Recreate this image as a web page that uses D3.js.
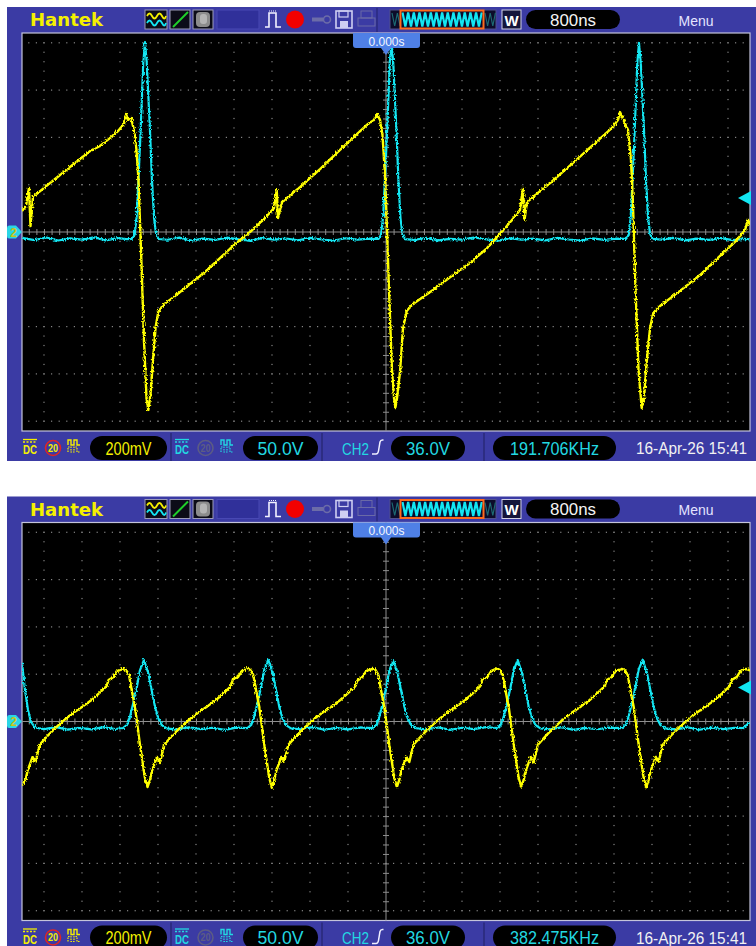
<!DOCTYPE html>
<html>
<head>
<meta charset="utf-8">
<script src="https://cdn.jsdelivr.net/npm/d3@7"></script>
<style>
    body { margin: 0; background: #fff; }
    svg { display: block; font-family: "Liberation Sans", Arial, sans-serif; }
</style>
</head>
<body>
<svg id="chart" width="756" height="946"></svg>
<script>
// Two Hantek screen captures, 800ns/div, CH1 200mV/div, CH2 50.0V/div

var gridTimes = [-7.2, -6.4, -5.6, -4.8, -4.0, -3.2, -2.4, -1.6, -0.8, 0, 0.8, 1.6, 2.4, 3.2, 4.0, 4.8, 5.6, 6.4, 7.2]; // µs
var gridVolts = [-0.8, -0.6, -0.4, -0.2, 0, 0.2, 0.4, 0.6, 0.8]; // CH1 volts

var timeLabel = "800ns";
var trigPosLabel = "0.000s";
var ch1Label = "200mV";
var ch2Label = "50.0V";
var trigLabel = "36.0V";
var trigLevel = 36.0; // CH2 volts
var stampLabel = "16-Apr-26 15:41";
var freqLabels = ["191.706KHz", "382.475KHz"];

// top screen, CH1 [µs, V]
var ch1Top = [
    [-7.663, 0.089], [-7.579, 0.110], [-7.516, 0.186], [-7.484, 0.025], [-7.432, 0.148],
    [-7.179, 0.190], [-6.863, 0.241], [-6.547, 0.292], [-6.232, 0.342], [-6.021, 0.364],
    [-5.811, 0.397], [-5.642, 0.427], [-5.516, 0.457], [-5.474, 0.499], [-5.432, 0.474],
    [-5.368, 0.482], [-5.305, 0.431], [-5.253, 0.347], [-5.211, 0.220], [-5.158, -0.076],
    [-5.095, -0.457], [-5.042, -0.702], [-5.004, -0.753], [-4.958, -0.689], [-4.905, -0.541],
    [-4.853, -0.406], [-4.794, -0.338], [-4.695, -0.309], [-4.442, -0.271], [-4.126, -0.220],
    [-3.811, -0.169], [-3.495, -0.110], [-3.179, -0.051], [-2.863, 0.000], [-2.547, 0.059],
    [-2.358, 0.101], [-2.301, 0.178], [-2.274, 0.059], [-2.189, 0.127], [-1.811, 0.190],
    [-1.389, 0.266], [-0.968, 0.347], [-0.653, 0.406], [-0.379, 0.457], [-0.253, 0.474],
    [-0.189, 0.499], [-0.126, 0.474], [-0.074, 0.410], [-0.021, 0.241], [0.021, 0.008],
    [0.063, -0.245], [0.126, -0.584], [0.179, -0.723], [0.200, -0.740], [0.232, -0.702],
    [0.295, -0.592], [0.358, -0.406], [0.436, -0.334], [0.568, -0.304], [0.989, -0.245],
    [1.411, -0.182], [1.768, -0.131], [2.126, -0.068], [2.400, -0.008], [2.653, 0.051],
    [2.821, 0.093], [2.884, 0.186], [2.916, 0.051], [2.968, 0.127], [3.453, 0.207],
    [3.937, 0.292], [4.400, 0.376], [4.758, 0.440], [4.884, 0.474], [4.926, 0.507],
    [4.989, 0.478], [5.095, 0.431], [5.158, 0.304], [5.200, 0.114], [5.253, -0.245],
    [5.316, -0.584], [5.383, -0.744], [5.432, -0.702], [5.488, -0.550], [5.558, -0.406],
    [5.628, -0.342], [5.768, -0.313], [6.189, -0.249], [6.611, -0.182], [7.032, -0.101],
    [7.347, -0.042], [7.558, 0.008], [7.621, 0.051], [7.663, 0.030]
];

// top screen, CH2 [µs, V]
var ch2Top = [
    [-7.663, -6.3], [-7.4, -8.5], [-7.15, -5.8], [-6.9, -9.0], [-6.65, -6.8], [-6.4, -8.0],
    [-6.15, -5.6], [-5.9, -8.8], [-5.65, -6.5], [-5.45, -7.6],
    [-5.348, -7.4], [-5.295, -3.2], [-5.249, 15.9], [-5.211, 55.0], [-5.165, 107.8], [-5.110, 178.6],
    [-5.074, 200.8], [-5.036, 178.6], [-4.969, 107.8], [-4.927, 55.0], [-4.885, 15.9], [-4.842, -2.1],
    [-4.790, -7.4],
    [-4.6, -8.2], [-4.35, -6.0], [-4.1, -9.1], [-3.85, -7.0], [-3.6, -8.4], [-3.35, -5.9], [-3.1, -7.8],
    [-2.85, -9.3], [-2.6, -6.4], [-2.35, -8.0], [-2.1, -6.9], [-1.85, -8.7], [-1.6, -6.2], [-1.35, -7.9],
    [-1.1, -9.0], [-0.85, -6.6], [-0.6, -8.1], [-0.35, -7.0],
    [-0.158, -7.4], [-0.105, -3.0], [-0.059, 17.0], [-0.021, 57.0], [0.025, 109.0], [0.080, 179.5],
    [0.116, 201.5], [0.154, 177.0], [0.221, 106.0], [0.263, 53.0], [0.305, 14.5], [0.348, -2.5],
    [0.400, -7.6],
    [0.6, -8.4], [0.85, -6.1], [1.1, -8.9], [1.35, -7.2], [1.6, -8.0], [1.85, -5.8], [2.1, -7.7],
    [2.35, -9.2], [2.6, -6.5], [2.85, -8.1], [3.1, -7.0], [3.35, -8.8], [3.6, -6.3], [3.85, -7.9],
    [4.1, -9.0], [4.35, -6.8], [4.6, -8.3], [4.85, -7.1],
    [5.052, -7.3], [5.105, -3.4], [5.151, 15.0], [5.189, 54.0], [5.235, 106.5], [5.290, 178.0],
    [5.326, 200.0], [5.364, 178.0], [5.431, 108.5], [5.473, 56.0], [5.515, 16.5], [5.558, -1.8],
    [5.610, -7.2],
    [5.8, -8.0], [6.05, -6.2], [6.3, -8.9], [6.55, -7.0], [6.8, -8.4], [7.05, -6.5], [7.3, -8.6],
    [7.55, -7.2], [7.663, -7.8]
];

// bottom screen, CH1 [µs, V]
var ch1Bottom = [
    [-7.663, -0.270], [-7.589, -0.247], [-7.547, -0.209], [-7.441, -0.150], [-7.378, -0.171],
    [-7.294, -0.099], [-7.126, -0.061], [-6.957, -0.027], [-6.747, 0.011], [-6.557, 0.040],
    [-6.368, 0.066], [-6.199, 0.091], [-6.031, 0.121], [-5.883, 0.150], [-5.841, 0.175],
    [-5.736, 0.188], [-5.652, 0.214],
    [-5.537, 0.222], [-5.474, 0.218], [-5.411, 0.197], [-5.354, 0.133], [-5.284, 0.061],
    [-5.179, -0.099], [-5.074, -0.239], [-5.021, -0.277],
    [-4.969, -0.247], [-4.927, -0.209], [-4.821, -0.150], [-4.758, -0.175], [-4.674, -0.099],
    [-4.506, -0.061], [-4.337, -0.027], [-4.127, 0.011], [-3.937, 0.040], [-3.748, 0.066],
    [-3.579, 0.091], [-3.411, 0.121], [-3.263, 0.150], [-3.221, 0.180], [-3.116, 0.188],
    [-3.032, 0.214],
    [-2.920, 0.226], [-2.857, 0.218], [-2.794, 0.197], [-2.737, 0.133], [-2.667, 0.061],
    [-2.562, -0.099], [-2.457, -0.239], [-2.404, -0.280],
    [-2.352, -0.247], [-2.310, -0.209], [-2.204, -0.150], [-2.141, -0.168], [-2.057, -0.099],
    [-1.889, -0.061], [-1.720, -0.027], [-1.510, 0.011], [-1.320, 0.040], [-1.131, 0.066],
    [-0.962, 0.091], [-0.794, 0.121], [-0.646, 0.150], [-0.604, 0.172], [-0.499, 0.188],
    [-0.415, 0.214],
    [-0.288, 0.222], [-0.225, 0.220], [-0.162, 0.197], [-0.105, 0.133], [-0.035, 0.061],
    [0.070, -0.099], [0.175, -0.239], [0.228, -0.277],
    [0.280, -0.247], [0.322, -0.209], [0.428, -0.150], [0.491, -0.171], [0.575, -0.099],
    [0.743, -0.061], [0.912, -0.027], [1.122, 0.011], [1.312, 0.040], [1.501, 0.066],
    [1.670, 0.091], [1.838, 0.121], [1.986, 0.150], [2.028, 0.178], [2.133, 0.188],
    [2.217, 0.214],
    [2.331, 0.224], [2.394, 0.218], [2.457, 0.197], [2.514, 0.133], [2.584, 0.061],
    [2.689, -0.099], [2.794, -0.239], [2.847, -0.275],
    [2.899, -0.247], [2.941, -0.209], [3.047, -0.150], [3.110, -0.173], [3.194, -0.099],
    [3.362, -0.061], [3.531, -0.027], [3.741, 0.011], [3.931, 0.040], [4.120, 0.066],
    [4.289, 0.091], [4.457, 0.121], [4.605, 0.150], [4.647, 0.175], [4.752, 0.188],
    [4.836, 0.214],
    [4.962, 0.222], [5.025, 0.218], [5.088, 0.197], [5.145, 0.133], [5.215, 0.061],
    [5.320, -0.099], [5.425, -0.239], [5.478, -0.278],
    [5.530, -0.247], [5.572, -0.209], [5.678, -0.150], [5.741, -0.170], [5.825, -0.099],
    [5.993, -0.061], [6.162, -0.027], [6.372, 0.011], [6.562, 0.040], [6.751, 0.066],
    [6.920, 0.091], [7.088, 0.121], [7.236, 0.150], [7.278, 0.176], [7.383, 0.188],
    [7.467, 0.214], [7.578, 0.222], [7.641, 0.218], [7.663, 0.214]
];

// bottom screen, CH2 [µs, V]
var ch2Bottom = [
    [-7.663, 62.0], [-7.600, 33.3], [-7.537, 12.2], [-7.474, -0.5], [-7.389, -6.3],
    [-7.2, -8.1], [-6.95, -5.9], [-6.7, -8.6], [-6.45, -6.7], [-6.2, -8.3], [-5.95, -6.0], [-5.7, -7.9],
    [-5.537, -6.9], [-5.453, -3.7], [-5.390, 5.1], [-5.320, 19.6], [-5.249, 35.4], [-5.179, 54.4],
    [-5.095, 65.0], [-5.004, 51.0], [-4.933, 33.0], [-4.863, 15.6], [-4.794, 3.4], [-4.722, -3.7],
    [-4.617, -7.2],
    [-4.4, -8.6], [-4.15, -6.1], [-3.9, -8.0], [-3.65, -6.6], [-3.4, -8.9], [-3.15, -6.4],
    [-2.920, -6.9], [-2.836, -3.5], [-2.773, 5.4], [-2.703, 20.0], [-2.632, 36.0], [-2.562, 55.0],
    [-2.478, 65.5], [-2.387, 51.5], [-2.316, 33.5], [-2.246, 15.2], [-2.177, 3.0], [-2.105, -3.9],
    [-2.000, -7.2],
    [-1.8, -8.2], [-1.55, -6.0], [-1.3, -8.7], [-1.05, -6.8], [-0.8, -8.4], [-0.55, -6.3],
    [-0.288, -6.9], [-0.204, -3.7], [-0.141, 5.0], [-0.071, 19.0], [0.000, 35.0], [0.070, 54.0],
    [0.154, 64.8], [0.245, 50.5], [0.316, 33.0], [0.386, 15.8], [0.455, 3.6], [0.527, -3.5],
    [0.632, -7.0],
    [0.85, -8.5], [1.1, -6.2], [1.35, -8.8], [1.6, -6.6], [1.85, -8.1], [2.1, -6.0],
    [2.331, -6.9], [2.415, -3.7], [2.478, 5.1], [2.548, 19.6], [2.619, 35.4], [2.689, 54.4],
    [2.773, 65.0], [2.864, 51.0], [2.935, 33.0], [3.005, 15.6], [3.074, 3.4], [3.146, -3.7],
    [3.251, -7.2],
    [3.45, -8.3], [3.7, -6.1], [3.95, -8.9], [4.2, -6.7], [4.45, -8.2], [4.7, -6.4],
    [4.962, -6.9], [5.046, -3.6], [5.109, 5.3], [5.179, 20.2], [5.250, 36.0], [5.320, 55.0],
    [5.404, 65.4], [5.495, 51.2], [5.566, 33.2], [5.636, 15.4], [5.705, 3.2], [5.777, -3.8],
    [5.882, -7.2],
    [6.1, -8.4], [6.35, -6.2], [6.6, -8.7], [6.85, -6.5], [7.1, -8.1], [7.35, -6.6],
    [7.516, -7.0], [7.663, -0.5]
];

var PURPLE = "#3b3ba4";
var YELLOW = "#f4f000";
var CYAN = "#22d8e2";
var TRACE_CYAN = "#12e6f2";

// scales are shared by both screens (each screen group is translated)
var x = d3.scaleLinear().domain([-7.663, 7.663]).range([22, 750]);
var yCh1 = d3.scaleLinear().domain([-0.8, 0.8]).range([414.2, 35.8]);
var yCh2 = d3.scaleLinear().domain([-200, 200]).range([414.2, 35.8]);

window.addEventListener("load", function () {
    var svg = d3.select("#chart");

    // sampling fuzz on the traces
    var fuzz = svg.append("defs").append("filter")
        .attr("id", "fuzz")
        .attr("x", "-3%").attr("y", "-8%")
        .attr("width", "106%").attr("height", "116%");
    fuzz.append("feTurbulence")
        .attr("type", "fractalNoise")
        .attr("baseFrequency", "0.9 0.5")
        .attr("numOctaves", 1)
        .attr("seed", 7)
        .attr("result", "noise");
    fuzz.append("feDisplacementMap")
        .attr("in", "SourceGraphic")
        .attr("in2", "noise")
        .attr("scale", 4)
        .attr("xChannelSelector", "R")
        .attr("yChannelSelector", "G");

    drawScreen(svg, 0, 7, freqLabels[0], ch1Top, ch2Top);
    drawScreen(svg, 1, 496.5, freqLabels[1], ch1Bottom, ch2Bottom);
});

function drawScreen(svg, idx, top, freq, ch1, ch2) {
    var g = svg.append("g").attr("transform", "translate(0," + top + ")");

    g.append("rect")
        .attr("x", 7).attr("y", 0)
        .attr("width", 760).attr("height", 454)
        .attr("fill", PURPLE);

    drawHeader(g);
    drawGrid(g);
    drawTraces(g, idx, ch1, ch2);
    drawMarkers(g);
    drawStatus(g, freq);
}

function addText(g, str, px, py, opts) {
    var t = g.append("text")
        .attr("x", px).attr("y", py)
        .attr("fill", opts.fill || "#fff")
        .attr("font-size", opts.size || 16)
        .attr("text-anchor", opts.anchor || "middle")
        .text(str);
    if (opts.weight) t.attr("font-weight", opts.weight);
    if (opts.family) t.attr("font-family", opts.family);
    if (opts.len) t.attr("textLength", opts.len).attr("lengthAdjust", "spacingAndGlyphs");
    return t;
}

function drawHeader(g) {
    addText(g, "Hantek", 30, 19, { fill: YELLOW, size: 17, anchor: "start", weight: "bold", family: "DejaVu Sans", len: 73 });

    // mode icons
    [[145, 22], [170, 20], [193, 20]].forEach(function (d) {
        g.append("rect").attr("x", d[0]).attr("y", 3).attr("width", d[1]).attr("height", 19)
            .attr("fill", "#0c0c18").attr("stroke", "#9c9cb8").attr("stroke-width", 1);
    });
    g.append("path").attr("d", "M147,9 q2.5,-5 5,0 t5,0 t5,0 t4,0")
        .attr("fill", "none").attr("stroke", YELLOW).attr("stroke-width", 1.8);
    g.append("path").attr("d", "M147,16 q2.5,-5 5,0 t5,0 t5,0 t4,0")
        .attr("fill", "none").attr("stroke", TRACE_CYAN).attr("stroke-width", 1.8);
    g.append("line").attr("x1", 173).attr("y1", 20).attr("x2", 188).attr("y2", 5)
        .attr("stroke", "#1fcf2a").attr("stroke-width", 2);
    g.append("rect").attr("x", 196).attr("y", 5).attr("width", 14).attr("height", 15).attr("rx", 4)
        .attr("fill", "#8c8c8c");
    g.append("rect").attr("x", 200).attr("y", 7).attr("width", 7).attr("height", 10).attr("rx", 3)
        .attr("fill", "#b4b4b4");
    g.append("rect").attr("x", 217).attr("y", 3).attr("width", 42).attr("height", 19)
        .attr("fill", "#30309a").attr("stroke", "#4848b4");

    // pulse, run, key, disk, printer
    g.append("path").attr("d", "M265,20 h4 v-14 h7 v14 h5")
        .attr("fill", "none").attr("stroke", "#f2f2ff").attr("stroke-width", 1.6);
    g.append("path").attr("d", "M269,4 h7").attr("stroke", "#f2f2ff").attr("stroke-dasharray", "1,1");
    g.append("circle").attr("cx", 295).attr("cy", 12.5).attr("r", 9).attr("fill", "#f20000");
    g.append("path").attr("d", "M312,12.5 h11").attr("stroke", "#6c6ca8").attr("stroke-width", 4);
    g.append("circle").attr("cx", 327).attr("cy", 12.5).attr("r", 3.5)
        .attr("fill", "none").attr("stroke", "#6c6ca8").attr("stroke-width", 1.6);
    g.append("rect").attr("x", 336).attr("y", 4).attr("width", 16).attr("height", 17)
        .attr("fill", "none").attr("stroke", "#cfcff2").attr("stroke-width", 1.6);
    g.append("rect").attr("x", 339).attr("y", 4).attr("width", 9).attr("height", 6)
        .attr("fill", "none").attr("stroke", "#cfcff2").attr("stroke-width", 1.2);
    g.append("rect").attr("x", 340).attr("y", 14).attr("width", 8).attr("height", 7)
        .attr("fill", "#cfcff2");
    g.append("rect").attr("x", 361).attr("y", 4).attr("width", 11).attr("height", 7)
        .attr("fill", "none").attr("stroke", "#6a6aa6");
    g.append("rect").attr("x", 358).attr("y", 11).attr("width", 17).attr("height", 8)
        .attr("fill", "none").attr("stroke", "#6a6aa6");
    g.append("line").attr("x1", 377).attr("y1", 1).attr("x2", 377).attr("y2", 25)
        .attr("stroke", "#23236c");

    // memory depth strip
    g.append("rect").attr("x", 390).attr("y", 3).attr("width", 106).attr("height", 19)
        .attr("fill", "#0c0c2a").attr("stroke", "#50508a");
    var zig = d3.line();
    g.append("path").attr("d", zig(d3.range(4).map(function (i) { return [392 + i * 2.7, i % 2 ? 19 : 6]; })))
        .attr("fill", "none").attr("stroke", "#1d6a72").attr("stroke-width", 1.2);
    g.append("path").attr("d", zig(d3.range(5).map(function (i) { return [485 + i * 2.6, i % 2 ? 19 : 6]; })))
        .attr("fill", "none").attr("stroke", "#1d6a72").attr("stroke-width", 1.2);
    g.append("path").attr("d", zig(d3.range(29).map(function (i) { return [402.5 + i * 2.83, i % 2 ? 19.5 : 5.5]; })))
        .attr("fill", "none").attr("stroke", TRACE_CYAN).attr("stroke-width", 2.2);
    g.append("rect").attr("x", 400.5).attr("y", 3.5).attr("width", 83).attr("height", 18)
        .attr("fill", "none").attr("stroke", "#ff6a1c").attr("stroke-width", 2);

    g.append("rect").attr("x", 502).attr("y", 3).attr("width", 19).attr("height", 19)
        .attr("fill", "#14143a").attr("stroke", "#d2d2e4");
    addText(g, "W", 511.5, 18.5, { size: 15, weight: "bold" });

    g.append("rect").attr("x", 526).attr("y", 3).attr("width", 94).attr("height", 19).attr("rx", 9.5)
        .attr("fill", "#000");
    addText(g, timeLabel, 573, 18.5, { size: 17, len: 46, fill: "#f4f4f4" });
    addText(g, "Menu", 696, 18.5, { size: 15, len: 35, fill: "#e4e4ff" });
}

function drawGrid(g) {
    g.append("rect")
        .attr("x", 22).attr("y", 26)
        .attr("width", 728).attr("height", 398)
        .attr("fill", "#000")
        .attr("stroke", "#c4c4da").attr("stroke-width", 1.2);

    var rowDots = d3.range(-47, 48).map(function (i) { return i * 0.16; });
    var colDots = d3.range(-20, 21).map(function (i) { return i * 0.04; });

    gridVolts.filter(function (v) { return v !== 0; }).forEach(function (v) {
        g.append("g").selectAll("rect")
            .data(rowDots)
            .enter().append("rect")
            .attr("x", function (t) { return x(t) - 0.6; })
            .attr("y", yCh1(v) - 0.6)
            .attr("width", 1.2).attr("height", 1.2)
            .attr("fill", "#858585");
    });

    gridTimes.filter(function (t) { return t !== 0; }).forEach(function (t) {
        g.append("g").selectAll("rect")
            .data(colDots)
            .enter().append("rect")
            .attr("x", x(t) - 0.6)
            .attr("y", function (v) { return yCh1(v) - 0.6; })
            .attr("width", 1.2).attr("height", 1.2)
            .attr("fill", "#858585");
    });

    // centre cross with fine ticks
    g.append("line").attr("x1", 22).attr("x2", 750).attr("y1", yCh1(0)).attr("y2", yCh1(0))
        .attr("stroke", "#8e8e8e");
    g.append("line").attr("x1", x(0)).attr("x2", x(0)).attr("y1", 26).attr("y2", 424)
        .attr("stroke", "#8e8e8e");

    var tickT = d3.range(-47, 48).map(function (i) { return i * 0.16; });
    var tickV = d3.range(-20, 21).map(function (i) { return i * 0.04; });

    [d3.axisBottom(x), d3.axisTop(x)].forEach(function (ax) {
        g.append("g")
            .attr("class", "cross")
            .attr("transform", "translate(0," + yCh1(0) + ")")
            .call(ax.tickValues(tickT).tickSize(3).tickSizeOuter(0).tickFormat(""));
    });
    [d3.axisLeft(yCh1), d3.axisRight(yCh1)].forEach(function (ax) {
        g.append("g")
            .attr("class", "cross")
            .attr("transform", "translate(" + x(0) + ",0)")
            .call(ax.tickValues(tickV).tickSize(3).tickSizeOuter(0).tickFormat(""));
    });
    g.selectAll(".cross .domain").remove();
    g.selectAll(".cross line").attr("stroke", "#8e8e8e");
}

function drawTraces(g, idx, ch1, ch2) {
    var clipId = "plotClip" + idx;
    g.append("clipPath").attr("id", clipId)
        .append("rect").attr("x", 22).attr("y", 26).attr("width", 728).attr("height", 398);

    var traces = g.append("g").attr("clip-path", "url(#" + clipId + ")");

    var line2 = d3.line()
        .x(function (d) { return x(d[0]); })
        .y(function (d) { return yCh2(d[1]); });
    var line1 = d3.line()
        .x(function (d) { return x(d[0]); })
        .y(function (d) { return yCh1(d[1]); });

    traces.append("path")
        .datum(ch2)
        .attr("d", line2)
        .attr("fill", "none")
        .attr("stroke", TRACE_CYAN)
        .attr("stroke-width", 2.2)
        .attr("stroke-linejoin", "round")
        .attr("filter", "url(#fuzz)");

    traces.append("path")
        .datum(ch1)
        .attr("d", line1)
        .attr("fill", "none")
        .attr("stroke", "#ffff00")
        .attr("stroke-width", 2.4)
        .attr("stroke-linejoin", "round")
        .attr("filter", "url(#fuzz)");
}

function drawMarkers(g) {
    // trigger position tab
    g.append("path")
        .attr("d", "M353,26 H420 V38 Q420,41 417,41 H391 L386,48 L381,41 H356 Q353,41 353,38 Z")
        .attr("fill", "#4f80e6");
    addText(g, trigPosLabel, 386.5, 38.5, { size: 13, len: 36, fill: "#f4f8ff" });

    // trigger level (CH2) on the right
    var ty = yCh2(trigLevel);
    g.append("path")
        .attr("d", "M738," + ty + " L751," + (ty - 7) + " L751," + (ty + 7) + " Z")
        .attr("fill", TRACE_CYAN);

    // channel ground markers on the left
    var gy = yCh1(0);
    g.append("path")
        .attr("d", "M9," + (gy - 6.5) + " H16 L22," + gy + " L16," + (gy + 6.5) + " H9 Q7," + (gy + 6.5) + " 7," + (gy + 4) + " V" + (gy - 4) + " Q7," + (gy - 6.5) + " 9," + (gy - 6.5) + " Z")
        .attr("fill", "#2ad6e6");
    addText(g, "2", 13.5, gy + 4.5, { size: 12, weight: "bold", fill: "#c8c418" });
}

function drawStatus(g, freq) {
    var cy = 441;

    // CH1 coupling / bw limit / probe
    g.append("line").attr("x1", 23).attr("x2", 37).attr("y1", 432.5).attr("y2", 432.5).attr("stroke", YELLOW).attr("stroke-width", 1.3);
    g.append("line").attr("x1", 23).attr("x2", 37).attr("y1", 435).attr("y2", 435).attr("stroke", YELLOW)
        .attr("stroke-width", 1.3).attr("stroke-dasharray", "2,1.5");
    addText(g, "DC", 30, 447, { size: 12, len: 14, fill: YELLOW, weight: "bold" });
    g.append("circle").attr("cx", 53).attr("cy", cy).attr("r", 7.5)
        .attr("fill", "none").attr("stroke", "#e02424").attr("stroke-width", 1.6);
    addText(g, "20", 53, cy + 3.8, { size: 10.5, len: 10, fill: YELLOW, weight: "bold" });
    waveIcon(g, 68, YELLOW);
    pill(g, 90, 77);
    addText(g, ch1Label, 128.5, 447.5, { size: 17.5, len: 46, fill: YELLOW });
    separator(g, 171);

    // CH2
    g.append("line").attr("x1", 175).attr("x2", 189).attr("y1", 432.5).attr("y2", 432.5).attr("stroke", CYAN).attr("stroke-width", 1.3);
    g.append("line").attr("x1", 175).attr("x2", 189).attr("y1", 435).attr("y2", 435).attr("stroke", CYAN)
        .attr("stroke-width", 1.3).attr("stroke-dasharray", "2,1.5");
    addText(g, "DC", 182, 447, { size: 12, len: 14, fill: CYAN, weight: "bold" });
    g.append("circle").attr("cx", 205.5).attr("cy", cy).attr("r", 7.5)
        .attr("fill", "none").attr("stroke", "#5c5c84").attr("stroke-width", 1.6);
    addText(g, "20", 205.5, cy + 3.8, { size: 10.5, len: 10, fill: "#5c5c84", weight: "bold" });
    waveIcon(g, 221, CYAN);
    pill(g, 243, 75);
    addText(g, ch2Label, 280.5, 447.5, { size: 17.5, len: 46, fill: CYAN });
    separator(g, 322);

    // trigger
    addText(g, "CH2", 342, 447.5, { size: 16.5, len: 27, fill: CYAN, anchor: "start" });
    g.append("path").attr("d", "M372,447 h4 q2,0 2.5,-3 l1.5,-9 q0.5,-2 2.5,-2 h1")
        .attr("fill", "none").attr("stroke", "#f0f0ff").attr("stroke-width", 1.5);
    pill(g, 391, 74);
    addText(g, trigLabel, 428, 447.5, { size: 17.5, len: 44, fill: CYAN });
    separator(g, 484);

    pill(g, 493, 123);
    addText(g, freq, 554.5, 447.5, { size: 17.5, len: 89, fill: CYAN });

    addText(g, stampLabel, 691.5, 447, { size: 16, len: 111, fill: "#f2f2f2" });
}

function pill(g, px, w) {
    g.append("rect")
        .attr("x", px).attr("y", 429)
        .attr("width", w).attr("height", 24)
        .attr("rx", 12)
        .attr("fill", "#000");
}

function separator(g, px) {
    g.append("line")
        .attr("x1", px).attr("x2", px)
        .attr("y1", 426).attr("y2", 454)
        .attr("stroke", "#25256e").attr("stroke-width", 1.2);
}

function waveIcon(g, px, color) {
    g.append("path").attr("d", "M" + px + ",438 v-5 h3 v5 h3 v-5 h3 v5 h3")
        .attr("fill", "none").attr("stroke", color).attr("stroke-width", 1.4);
    g.append("path").attr("d", "M" + px + ",445 v-5 h3 v5 h3 v-5 h3 v5 h3")
        .attr("fill", "none").attr("stroke", color).attr("stroke-width", 1.2)
        .attr("stroke-dasharray", "1.5,1");
}
</script>
</body>
</html>
